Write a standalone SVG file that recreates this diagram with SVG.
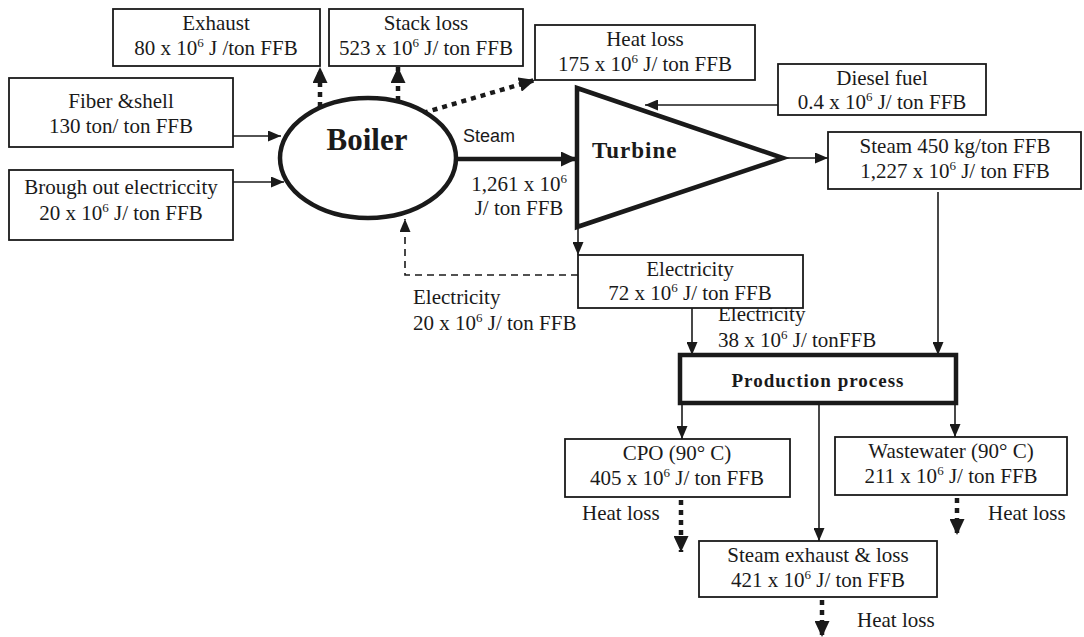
<svg xmlns="http://www.w3.org/2000/svg" width="1084" height="637" viewBox="0 0 1084 637">
  <style>
    .box { fill: #fff; stroke: #1a1a1a; stroke-width: 1.8; }
    .t { font-family: "Liberation Serif", "Times New Roman", serif; font-size: 21px; fill: #1a1a1a; }
    .c { text-anchor: middle; }
    .boiler { font-weight: bold; font-size: 31px; }
    .turbine { font-weight: bold; font-size: 23px; letter-spacing: 1px; }
    .proc { font-weight: bold; font-size: 19px; letter-spacing: 1px; }
    .sup { font-size: 13px; }
    .sans { font-family: "Liberation Sans", Arial, sans-serif; font-size: 18px; fill: #1a1a1a; }
    .ln { fill: none; stroke: #1a1a1a; stroke-width: 1.6; }
    .dash { fill: none; stroke: #1a1a1a; stroke-width: 1.6; stroke-dasharray: 7 5; }
    .dot { fill: none; stroke: #1a1a1a; stroke-width: 4.5; stroke-dasharray: 5 5; }
    .thick { fill: none; stroke: #1a1a1a; stroke-width: 4.5; }
  </style>
  <defs>
    <marker id="arr" markerUnits="userSpaceOnUse" markerWidth="13" markerHeight="11" refX="13" refY="5.5" orient="auto">
      <path d="M0,0 L13,5.5 L0,11 z" fill="#1a1a1a"/>
    </marker>
    <marker id="arrBig" markerUnits="userSpaceOnUse" markerWidth="16" markerHeight="15" refX="16" refY="7.5" orient="auto">
      <path d="M0,0 L16,7.5 L0,15 z" fill="#1a1a1a"/>
    </marker>
  </defs>
  <rect width="1084" height="637" fill="#fff"/>

  <!-- connectors -->
  <g id="connectors">
    <line class="ln" x1="233" y1="136" x2="281" y2="136" marker-end="url(#arr)"/>
    <line class="ln" x1="233" y1="182" x2="284" y2="182" marker-end="url(#arr)"/>
    <line class="dot" x1="320" y1="107" x2="320" y2="67" marker-end="url(#arrBig)"/>
    <line class="dot" x1="398" y1="101" x2="398" y2="67" marker-end="url(#arrBig)"/>
    <line class="dot" x1="423" y1="113" x2="535" y2="80" marker-end="url(#arrBig)"/>
    <line class="thick" x1="456" y1="159" x2="577" y2="159" marker-end="url(#arrBig)"/>
    <line class="ln" x1="778" y1="105" x2="645" y2="105" marker-end="url(#arr)"/>
    <line class="ln" x1="783" y1="158" x2="828" y2="158" marker-end="url(#arr)"/>
    <line class="ln" x1="938" y1="192" x2="938" y2="355" marker-end="url(#arr)"/>
    <line class="ln" x1="578" y1="229" x2="578" y2="255" marker-end="url(#arr)"/>
    <polyline class="dash" points="578,275 405,275 405,219" marker-end="url(#arr)"/>
    <line class="ln" x1="692" y1="308" x2="692" y2="355" marker-end="url(#arr)"/>
    <line class="ln" x1="682" y1="405" x2="682" y2="439" marker-end="url(#arr)"/>
    <line class="ln" x1="955" y1="405" x2="955" y2="437" marker-end="url(#arr)"/>
    <line class="ln" x1="819" y1="405" x2="819" y2="541" marker-end="url(#arr)"/>
    <line class="dot" x1="681" y1="500" x2="681" y2="552" marker-end="url(#arrBig)"/>
    <line class="dot" x1="957" y1="498" x2="957" y2="535" marker-end="url(#arrBig)"/>
    <line class="dot" x1="822" y1="600" x2="822" y2="637" marker-end="url(#arrBig)"/>
  </g>

  <!-- flow labels -->
  <g id="labels">
    <text class="sans" x="463" y="142">Steam</text>
    <text class="t c" x="519" y="191">1,261 x 10<tspan class="sup" dy="-8">6</tspan></text>
    <text class="t c" x="519" y="215">J/ ton FFB</text>
    <text class="t" x="413" y="304">Electricity</text>
    <text class="t" x="413" y="330">20 x 10<tspan class="sup" dy="-8">6</tspan><tspan dy="8"> J/ ton FFB</tspan></text>
    <text class="t" x="718" y="321">Electricity</text>
    <text class="t" x="718" y="347">38 x 10<tspan class="sup" dy="-8">6</tspan><tspan dy="8"> J/ tonFFB</tspan></text>
    <text class="t" x="582" y="520">Heat loss</text>
    <text class="t" x="988" y="520">Heat loss</text>
    <text class="t" x="857" y="627">Heat loss</text>
  </g>

  <g id="exhaust">
    <rect class="box" x="113" y="9" width="207" height="57"/>
    <text class="t c" x="216" y="30">Exhaust</text>
    <text class="t c" x="216" y="55">80 x 10<tspan class="sup" dy="-8">6</tspan><tspan dy="8"> J /ton FFB</tspan></text>
  </g>
  <g id="stack-loss">
    <rect class="box" x="329" y="9" width="194" height="57"/>
    <text class="t c" x="426" y="30">Stack loss</text>
    <text class="t c" x="426" y="55">523 x 10<tspan class="sup" dy="-8">6</tspan><tspan dy="8"> J/ ton FFB</tspan></text>
  </g>
  <g id="heat-loss-boiler">
    <rect class="box" x="535" y="25" width="220" height="55"/>
    <text class="t c" x="645" y="46">Heat loss</text>
    <text class="t c" x="645" y="71">175 x 10<tspan class="sup" dy="-8">6</tspan><tspan dy="8"> J/ ton FFB</tspan></text>
  </g>
  <g id="diesel">
    <rect class="box" x="778" y="64" width="208" height="51"/>
    <text class="t c" x="882" y="85">Diesel fuel</text>
    <text class="t c" x="882" y="109">0.4 x 10<tspan class="sup" dy="-8">6</tspan><tspan dy="8"> J/ ton FFB</tspan></text>
  </g>
  <g id="steam-out">
    <rect class="box" x="828" y="132" width="253" height="57"/>
    <text class="t c" x="955" y="153">Steam 450 kg/ton FFB</text>
    <text class="t c" x="955" y="178">1,227 x 10<tspan class="sup" dy="-8">6</tspan><tspan dy="8"> J/ ton FFB</tspan></text>
  </g>
  <g id="fiber">
    <rect class="box" x="9" y="78" width="224" height="69"/>
    <text class="t c" x="121" y="108">Fiber &amp;shell</text>
    <text class="t c" x="121" y="133">130 ton/ ton FFB</text>
  </g>
  <g id="brought-electricity">
    <rect class="box" x="9" y="170" width="224" height="70"/>
    <text class="t c" x="121" y="194">Brough out electriccity</text>
    <text class="t c" x="121" y="220">20 x 10<tspan class="sup" dy="-8">6</tspan><tspan dy="8"> J/ ton FFB</tspan></text>
  </g>
  <g id="boiler">
    <ellipse cx="368" cy="158" rx="88" ry="60" fill="#fff" stroke="#1a1a1a" stroke-width="4.5"/>
    <text class="t c boiler" x="367" y="150">Boiler</text>
  </g>
  <g id="turbine">
    <polygon points="577,88 577,227 783,158" fill="#fff" stroke="#1a1a1a" stroke-width="4.5" stroke-linejoin="miter"/>
    <text class="t turbine" x="592" y="158">Turbine</text>
  </g>
  <g id="electricity">
    <rect class="box" x="578" y="255" width="225" height="53"/>
    <text class="t c" x="690" y="276">Electricity</text>
    <text class="t c" x="690" y="300">72 x 10<tspan class="sup" dy="-8">6</tspan><tspan dy="8"> J/ ton FFB</tspan></text>
  </g>
  <g id="production">
    <rect x="680" y="355" width="276" height="48" fill="#fff" stroke="#1a1a1a" stroke-width="4.5"/>
    <text class="t c proc" x="818" y="387">Production process</text>
  </g>
  <g id="cpo">
    <rect class="box" x="565" y="439" width="225" height="58"/>
    <text class="t c" x="677" y="460">CPO (90° C)</text>
    <text class="t c" x="677" y="485">405 x 10<tspan class="sup" dy="-8">6</tspan><tspan dy="8"> J/ ton FFB</tspan></text>
  </g>
  <g id="wastewater">
    <rect class="box" x="835" y="437" width="232" height="58"/>
    <text class="t c" x="951" y="458">Wastewater (90° C)</text>
    <text class="t c" x="951" y="483">211 x 10<tspan class="sup" dy="-8">6</tspan><tspan dy="8"> J/ ton FFB</tspan></text>
  </g>
  <g id="steam-exhaust">
    <rect class="box" x="699" y="541" width="238" height="56"/>
    <text class="t c" x="818" y="562">Steam exhaust &amp; loss</text>
    <text class="t c" x="818" y="587">421  x 10<tspan class="sup" dy="-8">6</tspan><tspan dy="8"> J/ ton FFB</tspan></text>
  </g>
</svg>
